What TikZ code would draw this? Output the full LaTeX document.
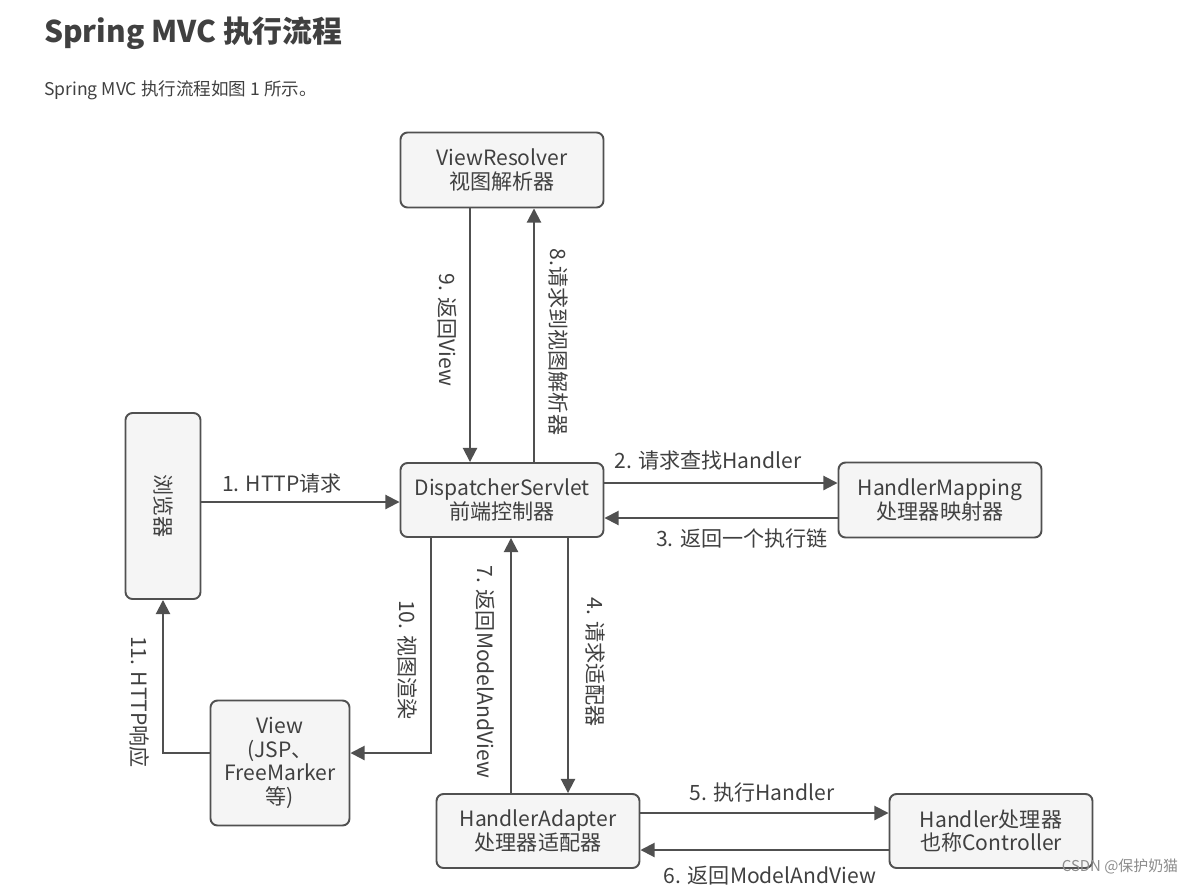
\documentclass[tikz,border=0pt]{standalone}
\usepackage{fontspec}
\setmainfont{Noto Sans CJK SC}
\usetikzlibrary{arrows.meta}
\definecolor{ln}{HTML}{505050}
\definecolor{tx}{HTML}{404040}
\begin{document}
\begin{tikzpicture}[x=0.02cm,y=-0.02cm,
  box/.style={draw=ln,line width=1.1pt,fill=black!4,rounded corners=4pt,align=center,
    text=tx,font=\fontsize{12}{13.5}\selectfont,inner sep=2pt},
  lbl/.style={text=tx,font=\fontsize{12}{14}\selectfont,inner sep=1pt},
  vl/.style={lbl,rotate=-90},
  arr/.style={draw=ln,line width=1.1pt,-{Triangle[length=8pt,width=8pt]}}]
\useasboundingbox (0,0) rectangle (1203,886);
\node[anchor=west,text=tx,font=\fontsize{17}{20}\selectfont\bfseries] at (38,33) {Spring MVC 执行流程};
\node[anchor=west,text=tx,font=\fontsize{10}{12}\selectfont] at (38,90) {Spring MVC 执行流程如图 1 所示。};
% nodes
\node[box,minimum width=203*0.02cm,minimum height=75*0.02cm] (vr) at (502,170) {ViewResolver\\视图解析器};
\node[box,minimum width=75*0.02cm,minimum height=186*0.02cm] (br) at (163,506) {\rotatebox{-90}{浏览器}};
\node[box,minimum width=203*0.02cm,minimum height=74*0.02cm] (ds) at (502,500) {DispatcherServlet\\前端控制器};
\node[box,minimum width=203*0.02cm,minimum height=75*0.02cm] (hm) at (940,500) {HandlerMapping\\处理器映射器};
\node[box,minimum width=139*0.02cm,minimum height=125*0.02cm] (vw) at (280,763) {View\\(JSP、\\FreeMarker\\等)};
\node[box,minimum width=203*0.02cm,minimum height=74*0.02cm] (ha) at (538,831) {HandlerAdapter\\处理器适配器};
\node[box,minimum width=203*0.02cm,minimum height=74*0.02cm] (hd) at (991,831) {Handler处理器\\也称Controller};
% connectors
\draw[arr] ([xshift=-0.64cm]vr.south) -- ([xshift=-0.64cm]ds.north);
\node[vl] at (447,330) {9. 返回View};
\draw[arr] ([xshift=0.64cm]ds.north) -- ([xshift=0.64cm]vr.south);
\node[vl] at (558,342) {8.请求到视图解析器};
\draw[arr] (br.east |- 0,502) -- (ds.west |- 0,502);
\node[lbl] at (282,484) {1. HTTP请求};
\draw[arr] ([yshift=0.34cm]ds.east) -- ([yshift=0.34cm]hm.west);
\node[lbl] at (708,461) {2. 请求查找Handler};
\draw[arr] ([yshift=-0.36cm]hm.west) -- ([yshift=-0.36cm]ds.east);
\node[lbl] at (742,538) {3. 返回一个执行链};
\draw[arr] ([xshift=-1.42cm]ds.south) |- ([yshift=0.2cm]vw.east);
\node[vl] at (408,660) {10. 视图渲染};
\draw[arr] ([xshift=-0.54cm]ha.north) -- (ds.south -| 511,0);
\node[vl] at (485,672) {7. 返回ModelAndView};
\draw[arr] (ds.south -| 568,0) -- (ha.north -| 568,0);
\node[vl] at (595,662) {4. 请求适配器};
\draw[arr] ([yshift=0.2cm]vw.west) -| (br.south);
\node[vl] at (140,702) {11. HTTP响应};
\draw[arr] ([yshift=0.36cm]ha.east) -- ([yshift=0.36cm]hd.west);
\node[lbl] at (762,792) {5. 执行Handler};
\draw[arr] ([yshift=-0.38cm]hd.west) -- ([yshift=-0.38cm]ha.east);
\node[lbl] at (770,876) {6. 返回ModelAndView};
\node[text=black!45,font=\fontsize{8.5}{10}\selectfont] at (1120,866) {CSDN @保护奶猫};
\end{tikzpicture}
\end{document}
